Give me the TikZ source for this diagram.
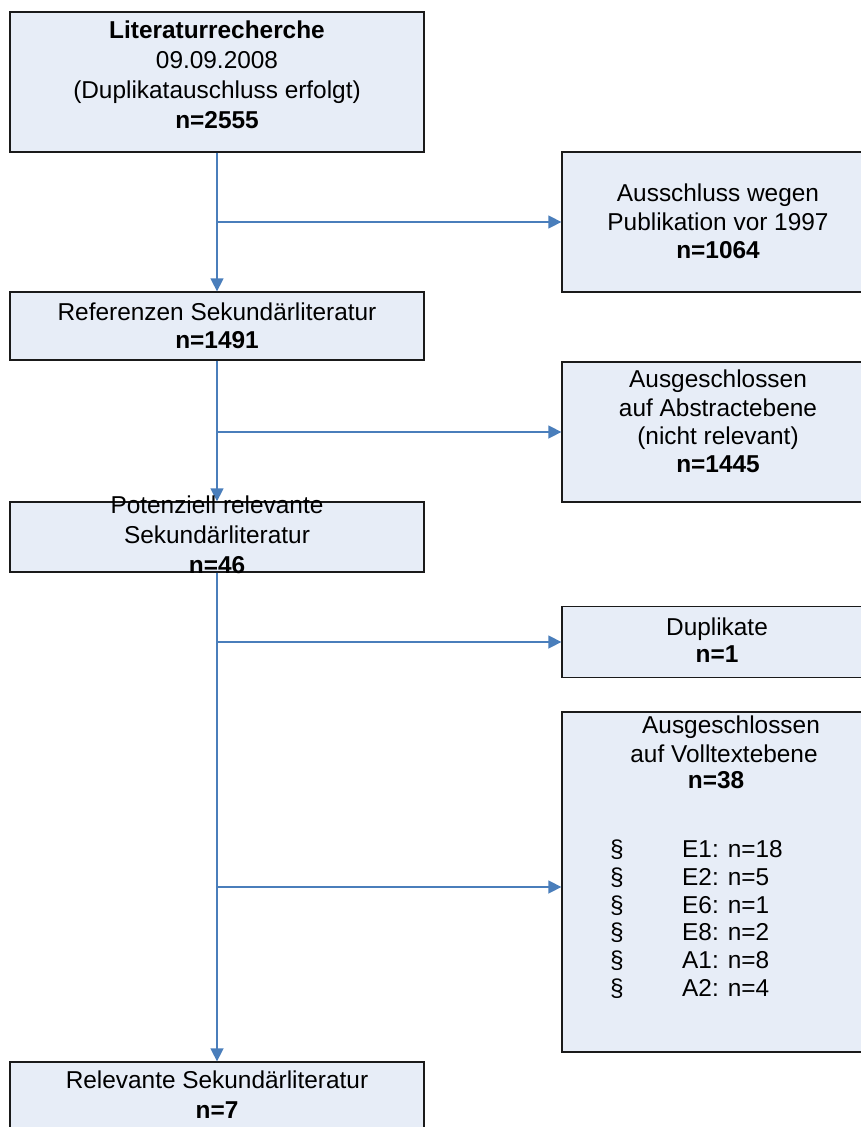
\documentclass[tikz,border=0pt]{standalone}
\usepackage{fontspec}
\setmainfont{Liberation Sans}
\usetikzlibrary{arrows.meta}
\definecolor{boxfill}{RGB}{231,237,247}
\definecolor{boxline}{RGB}{26,26,26}
\definecolor{arrowblue}{RGB}{74,126,187}
\tikzset{
  box/.style={rectangle, draw=boxline, fill=boxfill, line width=1.3pt, inner sep=0pt},
  leftbox/.style={box, minimum width=414pt},
  rightbox/.style={box, minimum width=312pt},
  arr/.style={draw=arrowblue, line width=1.5pt, -{Triangle[length=13pt,width=13pt]}},
  t/.style={font=\fontsize{24.4}{29}\selectfont, inner sep=0pt, text=black, anchor=base},
  tb/.style={t, font=\fontsize{24.4}{29}\selectfont\bfseries},
  tl/.style={t, anchor=base west},
}
\begin{document}
\begin{tikzpicture}[x=1pt,y=-1pt]
\useasboundingbox (0,0) rectangle (861,1127);
\clip (0,0) rectangle (861,1127);
% boxes
\node[leftbox, minimum height=140pt] (b1) at (217,82) {};
\node[rightbox, minimum height=140pt] (b2) at (718,222) {};
\node[leftbox, minimum height=68pt] (b3) at (217,326) {};
\node[rightbox, minimum height=140pt] (b4) at (718,432) {};
\node[leftbox, minimum height=70pt] (b5) at (217,537) {};
\node[rightbox, minimum height=71pt] (b6) at (718,642) {};
\node[rightbox, minimum height=340pt] (b7) at (718,882) {};
\node[leftbox, minimum height=70pt] (b8) at (217,1097) {};
% connectors
\draw[arr] (b1.south) -- (b3.north);
\coordinate (j1) at (b1.south |- b2.west);
\draw[arr] (j1) -- (b2.west);
\draw[arr] (b3.south) -- (b5.north);
\coordinate (j2) at (b3.south |- b4.west);
\draw[arr] (j2) -- (b4.west);
\draw[arr] (b5.south) -- (b8.north);
\coordinate (j3) at (b5.south |- b6.west);
\draw[arr] (j3) -- (b6.west);
\coordinate (j4) at (217,887);
\draw[arr] (j4) -- (j4 -| b7.west);
% texts
\node[tb] (t1a) at (217,38) {Literaturrecherche};
\node[t]  (t1b) at (217,68) {09.09.2008};
\node[t]  (t1c) at (217,98) {(Duplikatauschluss erfolgt)};
\node[tb] (t1d) at (217,128) {n=2555};
\node[t]  (t2a) at (718,201) {Ausschluss wegen};
\node[t]  (t2b) at (718,230) {Publikation vor 1997};
\node[tb] (t2c) at (718,258) {n=1064};
\node[t]  (t3a) at (217,320) {Referenzen Sekundärliteratur};
\node[tb] (t3b) at (217,348) {n=1491};
\node[t]  (t4a) at (718,387) {Ausgeschlossen};
\node[t]  (t4b) at (718,416) {auf Abstractebene};
\node[t]  (t4c) at (718,444) {(nicht relevant)};
\node[tb] (t4d) at (718,472) {n=1445};
\node[t]  (t5a) at (217,513) {Potenziell relevante};
\node[t]  (t5b) at (217,543) {Sekundärliteratur};
\node[tb] (t5c) at (217,573) {n=46};
\node[t]  (t6a) at (717,635) {Duplikate};
\node[tb] (t6b) at (717,662) {n=1};
\node[t]  (t7a) at (731,733) {Ausgeschlossen};
\node[t]  (t7b) at (724,762) {auf Volltextebene};
\node[tb] (t7c) at (716,788) {n=38};
\node[t] (s1) at (617,857) {§}; \node[tl] (e1) at (682,857) {E1: n=18};
\node[t] (s2) at (617,885) {§}; \node[tl] (e2) at (682,885) {E2: n=5};
\node[t] (s3) at (617,913) {§}; \node[tl] (e3) at (682,913) {E6: n=1};
\node[t] (s4) at (617,940) {§}; \node[tl] (e4) at (682,940) {E8: n=2};
\node[t] (s5) at (617,968) {§}; \node[tl] (e5) at (682,968) {A1: n=8};
\node[t] (s6) at (617,996) {§}; \node[tl] (e6) at (682,996) {A2: n=4};
\node[t]  (t8a) at (217,1088) {Relevante Sekundärliteratur};
\node[tb] (t8b) at (217,1118) {n=7};
\end{tikzpicture}
\end{document}
